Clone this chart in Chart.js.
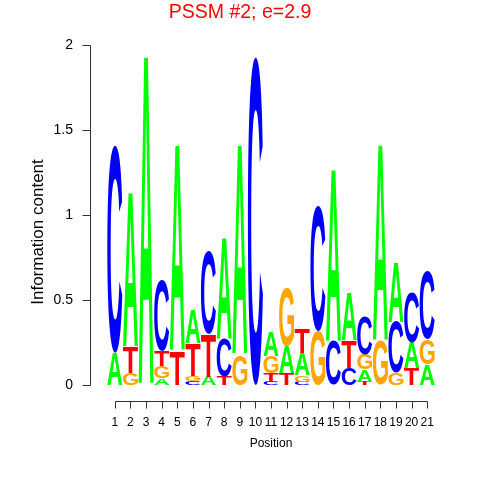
<!DOCTYPE html>
<html>
<head>
<meta charset="utf-8">
<script src="https://cdn.jsdelivr.net/npm/chart.js@4/dist/chart.umd.min.js"></script>
<style>
  html, body { margin: 0; padding: 0; background: #fff; }
  #logo { display: block; }
</style>
</head>
<body>
<canvas id="logo" width="480" height="480"></canvas>
<script>
// positions and per-letter information content (bits)
const positions = ['1','2','3','4','5','6','7','8','9','10','11','12','13','14','15','16','17','18','19','20','21'];
const heightA = [0.19, 0.90, 1.93, 0.04, 1.21, 0.20, 0.05, 0.59, 1.23, 0, 0.14, 0.16, 0.13, 0, 1.01, 0.28, 0.07, 1.15, 0.35, 0.15, 0.12];
const heightC = [1.22, 0, 0, 0.42, 0, 0.025, 0.49, 0.22, 0, 1.93, 0.02, 0, 0.02, 0.74, 0.26, 0.10, 0.22, 0, 0.30, 0.29, 0.40];
const heightG = [0, 0.07, 0, 0.07, 0, 0.03, 0, 0, 0.18, 0, 0.10, 0.34, 0.04, 0.32, 0, 0, 0.09, 0.26, 0.07, 0, 0.15];
const heightT = [0, 0.15, 0, 0.09, 0.20, 0.19, 0.25, 0.05, 0, 0, 0.05, 0.07, 0.14, 0, 0, 0.16, 0.02, 0, 0, 0.10, 0];
const yTicks = [0, 0.5, 1, 1.5, 2];

const letterColors = { A: '#00FF00', C: '#0000FF', G: '#FFA500', T: '#FF0000' };

// stack layers: smallest letter at the bottom
const layers = [[], [], [], []];
positions.forEach((p, i) => {
  const col = [['A', heightA[i]], ['C', heightC[i]], ['G', heightG[i]], ['T', heightT[i]]]
    .filter(e => e[1] > 0)
    .sort((a, b) => a[1] - b[1]);
  for (let k = 0; k < 4; k++) {
    layers[k].push(col[k] ? { letter: col[k][0], value: col[k][1] } : { letter: null, value: 0 });
  }
});

const LETTER_FONT = 'bold 200px "Liberation Sans", Arial, sans-serif';
const glyphCache = {};
function glyph(ctx, ch) {
  if (!glyphCache[ch]) {
    ctx.save();
    ctx.font = LETTER_FONT;
    const m = ctx.measureText(ch);
    ctx.restore();
    glyphCache[ch] = m;
  }
  return glyphCache[ch];
}

// draws each stacked bar as a stretched letter
const letterPlugin = {
  id: 'letters',
  afterDatasetsDraw(chart) {
    const ctx = chart.ctx;
    chart.data.datasets.forEach((ds, d) => {
      const meta = chart.getDatasetMeta(d);
      meta.data.forEach((bar, i) => {
        const item = layers[d][i];
        if (!item.letter) return;
        const p = bar.getProps(['x', 'y', 'base', 'width'], true);
        const top = Math.min(p.y, p.base), bottom = Math.max(p.y, p.base);
        const h = bottom - top;
        if (h <= 0.3) return;
        const m = glyph(ctx, item.letter);
        const gw = m.actualBoundingBoxLeft + m.actualBoundingBoxRight;
        const gh = m.actualBoundingBoxAscent + m.actualBoundingBoxDescent;
        ctx.save();
        ctx.font = LETTER_FONT;
        ctx.textAlign = 'left';
        ctx.textBaseline = 'alphabetic';
        ctx.fillStyle = letterColors[item.letter];
        ctx.translate(p.x - p.width / 2, bottom);
        ctx.scale(p.width / gw, h / gh);
        ctx.fillText(item.letter, m.actualBoundingBoxLeft, -m.actualBoundingBoxDescent);
        ctx.restore();
      });
    });
  }
};

// R style axes, title and labels
const axesPlugin = {
  id: 'rAxes',
  afterDraw(chart) {
    const ctx = chart.ctx;
    const xs = chart.scales.x, ys = chart.scales.y;
    ctx.save();
    ctx.strokeStyle = '#333';
    ctx.fillStyle = '#000';
    ctx.lineWidth = 1;

    // y axis
    const ax = 90.5;
    ctx.beginPath();
    ctx.moveTo(ax, Math.round(ys.getPixelForValue(0)) + 0.5);
    ctx.lineTo(ax, Math.round(ys.getPixelForValue(2)) + 0.5);
    yTicks.forEach(v => {
      const py = Math.round(ys.getPixelForValue(v)) + 0.5;
      ctx.moveTo(ax, py);
      ctx.lineTo(ax - 8, py);
    });
    ctx.stroke();
    ctx.font = '14px "Liberation Sans", Arial, sans-serif';
    ctx.textAlign = 'right';
    ctx.textBaseline = 'middle';
    yTicks.forEach(v => {
      ctx.fillText(String(v), 73, ys.getPixelForValue(v));
    });

    // x axis
    const ay = 401.5;
    ctx.beginPath();
    ctx.moveTo(Math.round(xs.getPixelForValue(0)) + 0.5, ay);
    ctx.lineTo(Math.round(xs.getPixelForValue(positions.length - 1)) + 0.5, ay);
    positions.forEach((p, i) => {
      const px = Math.round(xs.getPixelForValue(i)) + 0.5;
      ctx.moveTo(px, ay);
      ctx.lineTo(px, ay + 7);
    });
    ctx.stroke();
    ctx.font = '12px "Liberation Sans", Arial, sans-serif';
    ctx.textAlign = 'center';
    ctx.textBaseline = 'middle';
    positions.forEach((p, i) => {
      ctx.fillText(p, xs.getPixelForValue(i), 423);
    });

    // axis titles
    ctx.font = '12px "Liberation Sans", Arial, sans-serif';
    ctx.fillText('Position', (xs.getPixelForValue(0) + xs.getPixelForValue(positions.length - 1)) / 2, 444);
    ctx.save();
    ctx.translate(38, 232);
    ctx.rotate(-Math.PI / 2);
    ctx.font = '17px "Liberation Sans", Arial, sans-serif';
    ctx.fillText('Information content', 0, 0);
    ctx.restore();

    // main title
    ctx.fillStyle = '#FF0000';
    ctx.font = '19.5px "Liberation Sans", Arial, sans-serif';
    ctx.fillText('PSSM #2; e=2.9', 240, 13);
    ctx.restore();
  }
};

const data = {
  labels: positions,
  datasets: layers.map((layer, k) => ({
    label: 'layer ' + (k + 1),
    data: layer.map(e => e.value),
    backgroundColor: 'rgba(0,0,0,0)',
    borderWidth: 0,
    barPercentage: 1,
    categoryPercentage: 0.96
  }))
};

const options = {
  responsive: false,
  animation: false,
  devicePixelRatio: 1,
  layout: { padding: { left: 107, right: 45, top: 45, bottom: 95 } },
  plugins: {
    legend: { display: false },
    title: { display: false },
    tooltip: { enabled: false }
  },
  scales: {
    x: { display: false, stacked: true, offset: true },
    y: { display: false, stacked: true, min: 0, max: 2 }
  }
};

const config = {
  type: 'bar',
  data,
  options,
  plugins: [letterPlugin, axesPlugin]
};

const logoChart = new Chart(document.getElementById('logo').getContext('2d'), config);
</script>
</body>
</html>
